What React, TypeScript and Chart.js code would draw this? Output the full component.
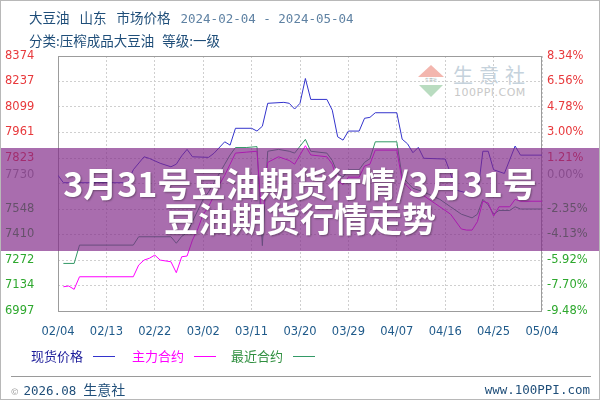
import React, { useEffect, useRef } from 'react';
import { Chart, registerables } from 'chart.js';

Chart.register(...registerables);

// ---- tick labels ----
const xTickLabels = ['02/04', '02/13', '02/22', '03/02', '03/11', '03/20', '03/29', '04/07', '04/16', '04/25', '05/04'];
const leftTickLabels = ['6997', '7134', '7272', '7410', '7548', '', '7823', '7961', '8099', '8237', '8374'];
const rightTickLabels = ['-9.48%', '-7.70%', '-5.92%', '-4.13%', '-2.35%', '', '1.21%', '3.00%', '4.78%', '6.56%', '8.34%'];
const basePrice = 7730;
const yMin = 6997;
const yMax = 8374.5;
const pctMin = -9.48;
const pctMax = 8.34;
const totalDays = 90;
const xStepDays = 9;

// ---- series: 现货价格 ----
const spotDays = [0, 1, 13, 14, 16, 17, 19, 21, 22, 23, 24, 25, 28, 29, 31, 32, 33, 36, 37, 38, 39, 42, 43, 44, 45, 46, 47, 50, 51, 52, 53, 54, 56, 57, 58, 59, 63, 64, 65, 66, 67, 68, 72, 73, 74, 78, 79, 80, 81, 83, 85, 86, 90];
const spotPrices = [7730, 7690, 7690, 7760, 7830, 7821, 7795, 7776, 7790, 7835, 7870, 7830, 7827, 7849, 7911, 7893, 7984, 7984, 7969, 7995, 8119, 8124, 8119, 8088, 8119, 8253, 8140, 8140, 8082, 7938, 7920, 7969, 7969, 8038, 8043, 8068, 8068, 7925, 7900, 7852, 7881, 7822, 7818, 7740, 7650, 7620, 7860, 7860, 7760, 7740, 7888, 7839, 7839];

// ---- series: 主力合约 ----
const mainDays = [1, 2, 3, 4, 14, 15, 16, 17, 18, 19, 21, 22, 23, 24, 25, 26, 27, 28, 29, 30, 31, 32, 33, 35, 37, 38, 39, 41, 43, 44, 46, 47, 50, 51, 52, 53, 54, 56, 57, 58, 59, 63, 64, 66, 68, 71, 73, 75, 76, 77, 78, 79, 80, 81, 82, 84, 85, 86, 90];
const mainPrices = [7128, 7132, 7114, 7182, 7182, 7245, 7272, 7282, 7299, 7272, 7263, 7204, 7290, 7294, 7380, 7440, 7520, 7560, 7620, 7680, 7730, 7790, 7850, 7855, 7860, 7470, 7800, 7830, 7810, 7790, 7890, 7840, 7830, 7790, 7700, 7680, 7720, 7720, 7780, 7790, 7866, 7866, 7700, 7640, 7620, 7560, 7520, 7440, 7434, 7434, 7480, 7590, 7580, 7510, 7560, 7560, 7600, 7590, 7590];

// ---- series: 最近合约 ----
const nearDays = [1, 3, 4, 14, 15, 21, 22, 23, 24, 25, 26, 27, 28, 29, 30, 31, 32, 33, 35, 37, 38, 39, 41, 43, 44, 46, 47, 50, 51, 52, 53, 54, 56, 57, 58, 59, 63, 64, 66, 68, 71, 73, 75, 77, 78, 79, 80, 81, 82, 84, 85, 86, 90];
const nearPrices = [7254, 7254, 7353, 7353, 7398, 7398, 7363, 7400, 7420, 7480, 7540, 7600, 7640, 7690, 7740, 7790, 7840, 7880, 7880, 7885, 7350, 7860, 7870, 7860, 7850, 7924, 7860, 7850, 7810, 7740, 7720, 7760, 7760, 7800, 7820, 7911, 7911, 7720, 7660, 7640, 7600, 7560, 7520, 7500, 7520, 7600, 7570, 7520, 7540, 7540, 7560, 7548, 7548];

const COLORS = {
  spot: '#3333cc',
  main: '#ff00ff',
  near: '#339966',
  up: '#e8393c',
  down: '#2ea82e',
  base: '#9a9a9a',
  axisText: '#1f5a8a',
  header: '#1f4e79',
};

const toPoints = (d: number[], v: number[]) => d.map((x, i) => ({ x, y: v[i] }));

export default function App() {
  const canvasRef = useRef<HTMLCanvasElement | null>(null);

  useEffect(() => {
    const canvas = canvasRef.current;
    if (!canvas) return;

    const framePlugin = {
      id: 'frame',
      beforeDatasetsDraw(chart: any) {
        const { ctx, chartArea: a } = chart;
        ctx.save();
        ctx.strokeStyle = '#9c9c9c';
        ctx.lineWidth = 1;
        ctx.strokeRect(a.left + 0.5, a.top + 0.5, a.right - a.left - 1, a.bottom - a.top);
        ctx.restore();
      },
    };

    const evenLeft = leftTickLabels.map((_, i) => yMin + (i * (yMax - yMin)) / 10);
    const evenRight = rightTickLabels.map((_, i) => pctMin + (i * (pctMax - pctMin)) / 10);

    const chart = new Chart(canvas, {
      type: 'line',
      data: {
        datasets: [
          { label: '现货价格', data: toPoints(spotDays, spotPrices), borderColor: COLORS.spot, borderWidth: 1, pointRadius: 0, tension: 0, yAxisID: 'y' },
          { label: '主力合约', data: toPoints(mainDays, mainPrices), borderColor: COLORS.main, borderWidth: 1, pointRadius: 0, tension: 0, yAxisID: 'y' },
          { label: '最近合约', data: toPoints(nearDays, nearPrices), borderColor: COLORS.near, borderWidth: 1, pointRadius: 0, tension: 0, yAxisID: 'y' },
        ],
      },
      options: {
        responsive: false,
        animation: false,
        devicePixelRatio: 1,
        layout: { padding: { left: 5, right: 0, top: 56, bottom: 59 } },
        plugins: { legend: { display: false }, tooltip: { enabled: false } },
        scales: {
          x: {
            type: 'linear',
            min: 0,
            max: totalDays,
            afterBuildTicks: (s: any) => {
              s.ticks = xTickLabels.map((_, i) => ({ value: i * xStepDays }));
            },
            afterFit: (s: any) => {
              s.height = 30;
            },
            ticks: {
              autoSkip: false,
              maxRotation: 0,
              padding: 14,
              color: COLORS.axisText,
              font: { family: 'DejaVu Sans', size: 11.5 },
              callback: (_v: any, i: number) => xTickLabels[i],
            },
            grid: { color: '#cfcfcf', drawTicks: false, lineWidth: 1 },
            border: { display: false, dash: [2, 2] },
          },
          y: {
            type: 'linear',
            position: 'left',
            min: yMin,
            max: yMax,
            afterBuildTicks: (s: any) => {
              s.ticks = evenLeft.map((value) => ({ value })).concat([{ value: basePrice }]);
            },
            afterFit: (s: any) => {
              s.width = 53;
            },
            ticks: {
              crossAlign: 'far',
              padding: 0,
              font: { family: 'DejaVu Sans', size: 11.5 },
              color: (c: any) => {
                const v = c.tick.value;
                if (Math.abs(v - basePrice) < 1) return COLORS.base;
                return v > basePrice ? COLORS.up : COLORS.down;
              },
              callback: (_v: any, i: number) => (i < leftTickLabels.length ? leftTickLabels[i] : String(basePrice)),
            },
            grid: {
              drawTicks: false,
              color: (c: any) => (c.tick && Math.abs(c.tick.value - basePrice) < 1 ? 'rgba(0,0,0,0)' : '#cfcfcf'),
            },
            border: { display: false, dash: [2, 2] },
          },
          y1: {
            type: 'linear',
            position: 'right',
            min: pctMin,
            max: pctMax,
            afterBuildTicks: (s: any) => {
              s.ticks = evenRight.map((value) => ({ value })).concat([{ value: 0 }]);
            },
            afterFit: (s: any) => {
              s.width = 58;
            },
            ticks: {
              padding: 5,
              font: { family: 'DejaVu Sans', size: 11.5 },
              color: (c: any) => {
                const v = c.tick.value;
                if (Math.abs(v) < 0.01) return COLORS.base;
                return v > 0 ? COLORS.up : COLORS.down;
              },
              callback: (_v: any, i: number) => (i < rightTickLabels.length ? rightTickLabels[i] : '0.00%'),
            },
            grid: { display: false, drawTicks: false },
            border: { display: false },
          },
        },
      },
      plugins: [framePlugin],
    } as any);

    return () => chart.destroy();
  }, []);

  const abs = (s: React.CSSProperties): React.CSSProperties => ({ position: 'absolute', ...s });

  return (
    <div
      style={{
        position: 'fixed',
        left: 0,
        top: 0,
        width: 600,
        height: 400,
        background: '#fff',
        border: '1px solid #b8b8b8',
        boxSizing: 'border-box',
        overflow: 'hidden',
        fontFamily: '"Noto Sans CJK SC", sans-serif',
      }}
    >
      {/* watermark */}
      <div style={abs({ left: 417, top: 64, width: 0, height: 0, borderLeft: '13px solid transparent', borderRight: '13px solid transparent', borderBottom: '12px solid #f3b6ae' })} />
      <div style={abs({ left: 418, top: 77, width: 24, height: 5, fontSize: 4, color: '#9aa', textAlign: 'center', lineHeight: '5px' })}>生意社</div>
      <div style={abs({ left: 418, top: 84, width: 0, height: 0, borderLeft: '12px solid transparent', borderRight: '12px solid transparent', borderTop: '12px solid #b9dcc0' })} />
      <div style={abs({ left: 452, top: 62, fontSize: 20, letterSpacing: 6, color: '#c5d2dc', lineHeight: '24px', whiteSpace: 'nowrap' })}>生意社</div>
      <div style={abs({ left: 453, top: 86, fontSize: 11, letterSpacing: 0.5, color: '#c8c8c8', fontFamily: 'DejaVu Sans', lineHeight: '12px', whiteSpace: 'nowrap' })}>100PPI.COM</div>

      <canvas ref={canvasRef} width={600} height={400} style={abs({ left: -1, top: -1, width: 600, height: 400 })} />

      {/* header */}
      <div style={abs({ left: 28, top: 7, fontSize: 13.5, color: COLORS.header, lineHeight: '18px', whiteSpace: 'nowrap' })}>
        <span>大豆油</span>
        <span style={{ marginLeft: 10 }}>山东</span>
        <span style={{ marginLeft: 10 }}>市场价格</span>
        <span style={{ marginLeft: 10, fontFamily: '"DejaVu Sans Mono", monospace', fontSize: 12.5, color: '#5f82a3' }}>2024-02-04 - 2024-05-04</span>
      </div>
      <div style={abs({ left: 28, top: 30, fontSize: 13.5, color: COLORS.header, lineHeight: '18px', whiteSpace: 'nowrap' })}>
        分类:压榨成品大豆油<span style={{ marginLeft: 8 }}>等级:一级</span>
      </div>

      {/* legend */}
      <div style={abs({ left: 30, top: 346, fontSize: 13, lineHeight: '18px', whiteSpace: 'nowrap', display: 'flex', alignItems: 'center' })}>
        <span style={{ color: '#1a1a99' }}>现货价格</span>
        <span style={{ display: 'inline-block', width: 22, height: 1, background: COLORS.spot, marginLeft: 10 }} />
        <span style={{ color: COLORS.main, marginLeft: 17 }}>主力合约</span>
        <span style={{ display: 'inline-block', width: 22, height: 1, background: COLORS.main, marginLeft: 10 }} />
        <span style={{ color: '#2f8f3f', marginLeft: 15 }}>最近合约</span>
        <span style={{ display: 'inline-block', width: 22, height: 1, background: COLORS.near, marginLeft: 10 }} />
      </div>

      {/* footer */}
      <div style={abs({ left: 10, top: 375, width: 580, height: 0, borderTop: '1px solid #9a9a9a' })} />
      <div style={abs({ left: 10, top: 379, fontSize: 14, color: COLORS.header, lineHeight: '18px', whiteSpace: 'nowrap' })}>
        <span style={{ fontSize: 9, color: '#999', marginRight: 5 }}>©</span>
        <span style={{ fontFamily: '"DejaVu Sans Mono", monospace', fontSize: 12.5 }}>2026.08</span>
        <span style={{ marginLeft: 7 }}>生意社</span>
      </div>
      <div style={abs({ right: 9, top: 380, fontSize: 12.5, color: COLORS.header, lineHeight: '18px', fontFamily: '"DejaVu Sans Mono", monospace', whiteSpace: 'nowrap' })}>
        www.100PPI.com
      </div>

      {/* overlay band with title */}
      <div
        style={abs({
          left: -1,
          top: 147,
          width: 600,
          height: 103,
          background: 'rgba(128, 40, 135, 0.68)',
          display: 'flex',
          flexDirection: 'column',
          alignItems: 'center',
          justifyContent: 'center',
          color: '#fff',
          fontWeight: 700,
          fontSize: 34,
          lineHeight: '35px',
          textShadow: '1px 1px 2px rgba(0,0,0,0.35)',
          whiteSpace: 'nowrap',
        })}
      >
        <div>3月31号豆油期货行情/3月31号</div>
        <div>豆油期货行情走势</div>
      </div>
    </div>
  );
}
